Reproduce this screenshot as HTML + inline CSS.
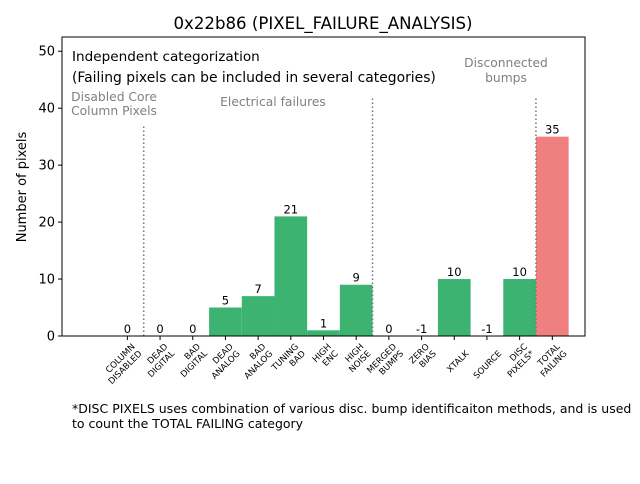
<!DOCTYPE html>
<html><head><meta charset="utf-8"><style>
body{margin:0;background:#fff;font-family:"DejaVu Sans","Liberation Sans",sans-serif;}
svg text{font-family:"DejaVu Sans","Liberation Sans",sans-serif;}
</style></head><body>
<svg id="chart" width="640" height="480" xmlns="http://www.w3.org/2000/svg">
<rect width="640" height="480" fill="#fff"/>
<text x="323" y="29" font-size="16.6" text-anchor="middle">0x22b86 (PIXEL_FAILURE_ANALYSIS)</text>
<g id="plot"></g>
<text transform="translate(26,187) rotate(-90)" font-size="13" text-anchor="middle">Number of pixels</text>
<text x="72" y="413" font-size="12.5">*DISC PIXELS uses combination of various disc. bump identificaiton methods, and is used</text>
<text x="72" y="428" font-size="12.5">to count the TOTAL FAILING category</text>
</svg>
<script>
const categories=[["COLUMN","DISABLED"],["DEAD","DIGITAL"],["BAD","DIGITAL"],["DEAD","ANALOG"],["BAD","ANALOG"],["TUNING","BAD"],["HIGH","ENC"],["HIGH","NOISE"],["MERGED","BUMPS"],["ZERO","BIAS"],["XTALK"],["SOURCE"],["DISC","PIXELS*"],["TOTAL","FAILING"]];
const values=[0,0,0,5,7,21,1,9,0,-1,10,-1,10,35];
const yTicks=[0,10,20,30,40,50];
const separators=[0.5,7.5,12.5];
const separatorTops=[37,42,42];
const L=62,R=585,T=37,B=336,XMIN=-2,XMAX=14,YMAX=52.5;
const NS="http://www.w3.org/2000/svg";
const g=document.getElementById('plot');
const sx=v=>L+(v-XMIN)/(XMAX-XMIN)*(R-L);
const sy=v=>B-v/YMAX*(B-T);
function mk(tag,attrs,txt){const e=document.createElementNS(NS,tag);for(const k in attrs)e.setAttribute(k,attrs[k]);if(txt!==undefined)e.textContent=txt;g.appendChild(e);return e;}
values.forEach((v,i)=>{
  const h=Math.max(v,0);
  const last=i===values.length-1;
  if(h>0){const r=mk('rect',{x:sx(i-0.5),y:sy(h),width:sx(i+0.5)-sx(i-0.5),height:sy(0)-sy(h),fill:last?'#f08080':'#3cb371'});
  
  }
  const t=mk('text',{x:sx(i),y:sy(h)-3,'font-size':11.5,'text-anchor':'middle'},String(v));
  
  
});
separators.forEach((s,i)=>{
  const l=mk('line',{x1:sx(s),x2:sx(s),y1:sy(0),y2:sy(separatorTops[i]),stroke:'#777','stroke-width':1.5,'stroke-dasharray':'1.5,2.5'});
  
  
});
mk('rect',{x:L,y:T,width:R-L,height:B-T,fill:'none',stroke:'#000','stroke-width':1});
yTicks.forEach(v=>{
  mk('line',{x1:L-4,x2:L,y1:sy(v),y2:sy(v),stroke:'#000'});
  const t=mk('text',{x:L-7,y:sy(v)+4.5,'font-size':13,'text-anchor':'end'},String(v));
  
  
});
categories.forEach((c,i)=>{
  const x=sx(i);
  mk('line',{x1:x,x2:x,y1:B,y2:B+4,stroke:'#000'});
  const t=mk('text',{transform:`translate(${x+15},${B+18}) rotate(-45)`,'font-size':8.6,'text-anchor':'end'});
  
  
  const n=c.length;
  c.forEach((ln,j)=>{const s=document.createElementNS(NS,'tspan');s.setAttribute('x',0);s.setAttribute('y',(j-(n-1))*9.8);s.textContent=ln;t.appendChild(s);});
});
const ann=[[72,61,13.6,'#000','Independent categorization','start','annotation-title'],[72,82,13.9,'#000','(Failing pixels can be included in several categories)','start','annotation-subtitle'],
[114,101,12.3,'#808080','Disabled Core','middle','group-label-disabled'],[114,115,12.3,'#808080','Column Pixels','middle','group-label-disabled-2'],
[273,106,12.3,'#808080','Electrical failures','middle','group-label-electrical'],[506,67,12.3,'#808080','Disconnected','middle','group-label-disconnected'],[506,82,12.3,'#808080','bumps','middle','group-label-disconnected-2']];
ann.forEach(a=>{const t=mk('text',{x:a[0],y:a[1],'font-size':a[2],fill:a[3],'text-anchor':a[5]},a[4]);

});
</script>
</body></html>
